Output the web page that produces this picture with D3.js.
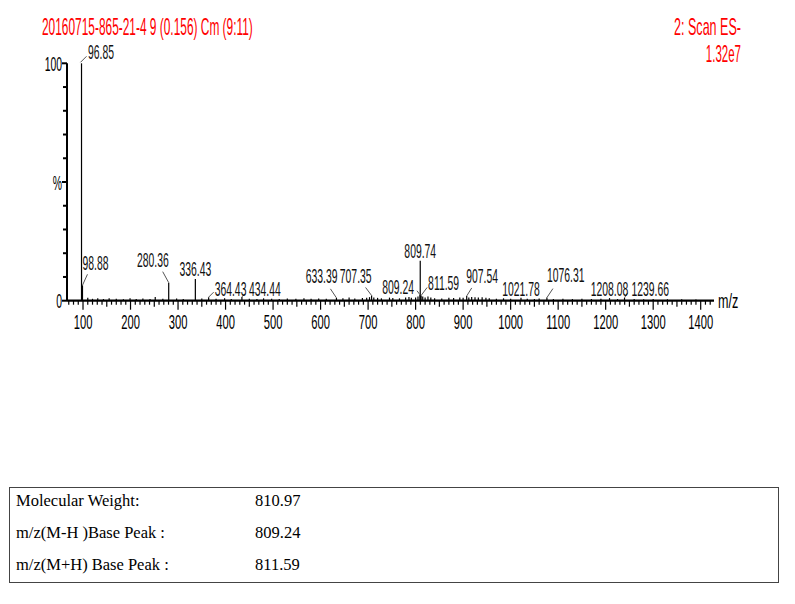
<!DOCTYPE html>
<html>
<head>
<meta charset="utf-8">
<script src="https://cdn.jsdelivr.net/npm/d3@7"></script>
<style>
  body { margin: 0; background: #fff; }
  .narrow { font-family: "Liberation Sans", Arial, sans-serif; }
  .tbl { font-family: "Liberation Serif", "Times New Roman", serif; font-size: 16.5px; }
</style>
</head>
<body>
<div id="chart"></div>
<script>

// labelled peaks, m/z and relative intensity (%)
var peak_mz  = [96.85, 98.88, 280.36, 336.43, 364.43, 434.44, 633.39, 707.35, 809.24, 809.74, 811.59, 907.54, 1021.78, 1076.31, 1208.08, 1239.66];
var peak_int = [100,   6.5,   7.6,    9.1,    1.5,    1.6,    1.2,    2.2,    2.5,    16.8,   2.2,    2.0,    1.2,     1.3,     1.1,     1.2];

// small unlabelled peaks along the baseline
var noise_mz  = [110, 120, 131, 143, 155, 170, 185, 199, 212, 226, 241, 252, 268, 297, 311, 350, 380, 398, 412, 450, 466, 480, 497, 513, 530, 548, 565, 580, 596, 612, 647, 660, 672, 688, 697, 703, 712, 720, 728, 745, 752, 766, 779, 786, 791, 800, 805, 815, 820, 826, 832, 840, 855, 870, 880, 893, 900, 912, 918, 925, 932, 940, 948, 955, 970, 985, 1000, 1035, 1050, 1060, 1090, 1110, 1130, 1150, 1170, 1190, 1225, 1260, 1280, 1300, 1330, 1360, 1390];
var noise_int = [1.2, 0.8, 1.0, 0.7, 1.0, 0.8, 0.6, 1.0, 0.7, 0.9, 0.7, 1.6, 0.8, 0.9, 0.7, 0.9, 0.8, 1.0, 0.7, 0.8, 0.7, 1.0, 0.8, 0.7, 0.9, 0.8, 1.0, 0.8, 0.9, 0.8, 1.0, 1.3, 0.9, 1.1, 1.2, 1.5, 1.4, 1.2, 1.0, 1.3, 1.1, 1.0, 1.3, 1.6, 1.2, 1.4, 1.8, 1.8, 1.4, 1.8, 1.3, 1.0, 0.9, 1.2, 1.1, 1.3, 1.2, 1.4, 1.6, 1.5, 1.3, 1.5, 1.2, 1.0, 0.8, 1.0, 0.8, 0.8, 0.7, 0.9, 0.7, 0.8, 0.7, 0.8, 0.7, 0.8, 0.7, 0.7, 0.6, 0.7, 0.6, 0.6, 0.5];

// axis ticks
var x_ticks = [100, 200, 300, 400, 500, 600, 700, 800, 900, 1000, 1100, 1200, 1300, 1400];
var y_ticks = [0, 10, 20, 30, 40, 50, 60, 70, 80, 90, 100];

// header texts and summary table
var title_text = "20160715-865-21-4 9 (0.156) Cm (9:11)";
var scan_text = ["2: Scan ES-", "1.32e7"];
var table_keys = ["Molecular Weight:", "m/z(M-H )Base Peak :", "m/z(M+H) Base Peak :"];
var table_vals = ["810.97", "809.24", "811.59"];

// label placement for each labelled peak: anchor and offset from peak top
var label_pos = [
  {a: "start",  dx: 6.5, dy: -4,  lead: [[-1, -1], [5, -7]]},
  {a: "start",  dx: 0,   dy: -15, lead: [[0, 0], [5, -11]]},
  {a: "end",    dx: 0,   dy: -16, lead: [[0, 0], [-6, -11]]},
  {a: "middle", dx: 0,   dy: -3,  lead: null},
  {a: "start",  dx: 6,   dy: -1,  lead: [[0, 0], [5, -5]]},
  {a: "start",  dx: 7,   dy: -1,  lead: [[0, 0], [3, -3]]},
  {a: "end",    dx: 1,   dy: -15, lead: [[0, 0], [-6, -9]]},
  {a: "end",    dx: 0,   dy: -12.5, lead: [[0, 0], [-6, -8]]},
  {a: "end",    dx: -6,  dy: -1,  lead: [[0, 0], [-3, -4]]},
  {a: "middle", dx: 0,   dy: -3,  lead: null},
  {a: "start",  dx: 7,   dy: -5.5, lead: [[0, 0], [6, -8]]},
  {a: "start",  dx: -0.5, dy: -13, lead: [[0, 0], [5, -8]]},
  {a: "middle", dx: 0,   dy: -2,  lead: null},
  {a: "start",  dx: 0,   dy: -15.6, lead: [[0, 0], [6, -9]]},
  {a: "middle", dx: 0,   dy: -2,  lead: null},
  {a: "start",  dx: 7,   dy: -2,  lead: [[0, 0], [3, -5]]}
];

var width = 795, height = 604;

// place a text at x, y and squeeze it horizontally, like a narrow font
function narrow_at(tx, ty, s) {
  return "translate(" + tx + "," + ty + ") scale(" + s + ",1)";
}

var svg = d3.select("#chart").append("svg")
    .attr("width", width)
    .attr("height", height);

// scales
var x = d3.scaleLinear().domain([66.3, 1428]).range([67, 714]);
var y = d3.scaleLinear().domain([0, 100]).range([300.7, 63.3]);

// header
svg.append("text")
    .attr("class", "narrow")
    .attr("transform", narrow_at(42, 35, 0.518))
    .attr("font-size", 23)
    .attr("fill", "#ff0000")
    .text(title_text);

svg.selectAll(".scan-text").data(scan_text)
  .enter().append("text")
    .attr("class", "narrow scan-text")
    .attr("transform", function(d, i) { return narrow_at(741, 35 + i * 27, i == 0 ? 0.546 : 0.5); })
    .attr("text-anchor", "end")
    .attr("font-size", 23)
    .attr("fill", "#ff0000")
    .text(function(d) { return d; });

// baseline noise peaks
var noise = noise_mz.map(function(m, i) { return {mz: m, v: noise_int[i]}; });
svg.selectAll(".noise").data(noise)
  .enter().append("line")
    .attr("class", "noise")
    .attr("x1", function(d) { return x(d.mz); })
    .attr("x2", function(d) { return x(d.mz); })
    .attr("y1", y(0))
    .attr("y2", function(d) { return y(d.v); })
    .attr("stroke", "#000")
    .attr("stroke-width", 1.2);

// labelled peaks
var peaks = peak_mz.map(function(m, i) { return {mz: m, v: peak_int[i], p: label_pos[i]}; });
svg.selectAll(".peak").data(peaks)
  .enter().append("line")
    .attr("class", "peak")
    .attr("x1", function(d) { return x(d.mz); })
    .attr("x2", function(d) { return x(d.mz); })
    .attr("y1", y(0))
    .attr("y2", function(d) { return y(d.v); })
    .attr("stroke", "#000")
    .attr("stroke-width", 1.2);

// leader lines from peak to label
svg.selectAll(".lead").data(peaks.filter(function(d) { return d.p.lead; }))
  .enter().append("line")
    .attr("class", "lead")
    .attr("x1", function(d) { return x(d.mz) + d.p.lead[0][0]; })
    .attr("y1", function(d) { return y(d.v) + d.p.lead[0][1]; })
    .attr("x2", function(d) { return x(d.mz) + d.p.lead[1][0]; })
    .attr("y2", function(d) { return y(d.v) + d.p.lead[1][1]; })
    .attr("stroke", "#555")
    .attr("stroke-width", 1);

svg.selectAll(".peak-label").data(peaks)
  .enter().append("text")
    .attr("class", "narrow peak-label")
    .attr("transform", function(d) { return narrow_at(x(d.mz) + d.p.dx, y(d.v) + d.p.dy, 0.52); })
    .attr("text-anchor", function(d) { return d.p.a; })
    .attr("font-size", 20)
    .attr("fill", "#111")
    .text(function(d) { return d.mz.toFixed(2); });

// x axis, with minor ticks every 10 and medium every 50
var minor = d3.range(70, 1430, 10);
svg.append("line")
    .attr("x1", 67).attr("x2", 714)
    .attr("y1", y(0)).attr("y2", y(0))
    .attr("stroke", "#000").attr("stroke-width", 2.2);

svg.selectAll(".xminor").data(minor)
  .enter().append("line")
    .attr("class", "xminor")
    .attr("x1", function(d) { return x(d); })
    .attr("x2", function(d) { return x(d); })
    .attr("y1", y(0))
    .attr("y2", function(d) { return y(0) + (d % 100 == 0 ? 9 : (d % 50 == 0 ? 6 : 4)); })
    .attr("stroke", "#000")
    .attr("stroke-width", 1.2);

svg.selectAll(".xlab").data(x_ticks)
  .enter().append("text")
    .attr("class", "narrow xlab")
    .attr("transform", function(d) { return narrow_at(x(d), 329, 0.56); })
    .attr("text-anchor", "middle")
    .attr("font-size", 20)
    .attr("fill", "#000")
    .text(function(d) { return d; });

svg.append("text")
    .attr("class", "narrow")
    .attr("transform", narrow_at(718, 308, 0.6))
    .attr("font-size", 21)
    .text("m/z");

// y axis
svg.append("line")
    .attr("x1", 67).attr("x2", 67)
    .attr("y1", y(100)).attr("y2", y(0))
    .attr("stroke", "#000").attr("stroke-width", 2);

svg.selectAll(".ytick").data(y_ticks)
  .enter().append("line")
    .attr("class", "ytick")
    .attr("x1", function(d) { return d % 50 == 0 ? 62 : 63; })
    .attr("x2", 67)
    .attr("y1", function(d) { return y(d); })
    .attr("y2", function(d) { return y(d); })
    .attr("stroke", "#000")
    .attr("stroke-width", 2);

svg.selectAll(".ylab").data([0, 50, 100])
  .enter().append("text")
    .attr("class", "narrow ylab")
    .attr("transform", function(d) { return narrow_at(62, y(d) + 7.5, 0.52); })
    .attr("text-anchor", "end")
    .attr("font-size", 20)
    .text(function(d) { return d == 50 ? "%" : d; });

// summary table
svg.append("rect")
    .attr("x", 9.5).attr("y", 487.5)
    .attr("width", 769).attr("height", 95)
    .attr("fill", "none")
    .attr("stroke", "#444")
    .attr("stroke-width", 1);

svg.selectAll(".tkey").data(table_keys)
  .enter().append("text")
    .attr("class", "tbl tkey")
    .attr("x", 16)
    .attr("y", function(d, i) { return 506 + i * 32; })
    .text(function(d) { return d; });

svg.selectAll(".tval").data(table_vals)
  .enter().append("text")
    .attr("class", "tbl tval")
    .attr("x", 255)
    .attr("y", function(d, i) { return 506 + i * 32; })
    .text(function(d) { return d; });

</script>
</body>
</html>
